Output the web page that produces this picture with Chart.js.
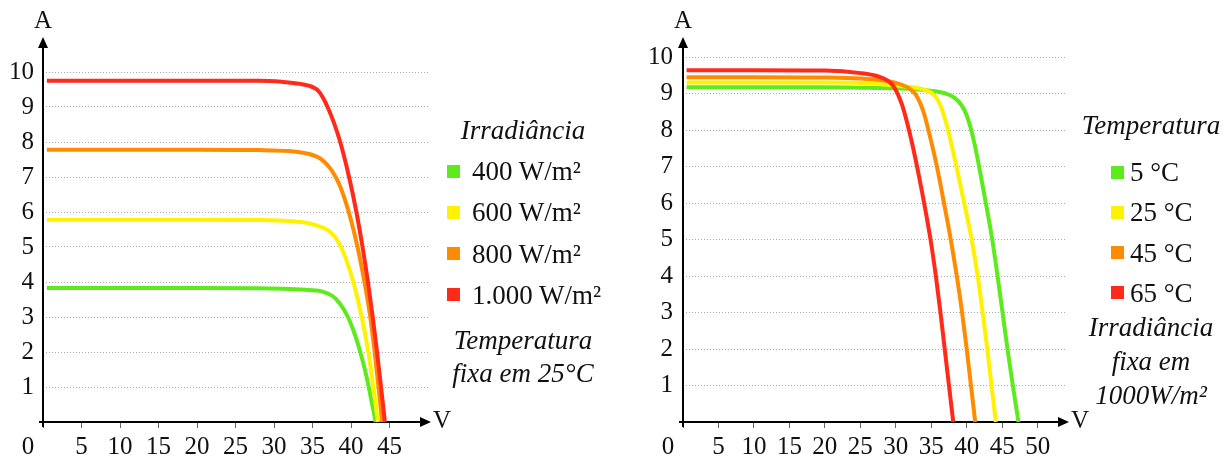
<!DOCTYPE html>
<html>
<head>
<meta charset="utf-8">
<script src="https://cdn.jsdelivr.net/npm/chart.js@4.4.1/dist/chart.umd.min.js"></script>
<style>
  html, body { margin: 0; padding: 0; background: #fff; }
  #wrap { position: relative; width: 1225px; height: 459px; overflow: hidden;
          font-family: "Liberation Serif", "Times New Roman", serif; color: #111; }
  canvas { position: absolute; top: 0; }
  .txt { position: absolute; line-height: 1; white-space: nowrap; font-size: 27px; }
  .mid { transform: translate(-50%, -50%); }
  .left { transform: translateY(-50%); }
  .it { font-style: italic; }
  .sw { position: absolute; width: 13px; height: 13px; }
</style>
</head>
<body>
<div id="wrap">
  <canvas id="irr" width="612" height="459" style="left:0"></canvas>
  <canvas id="temp" width="613" height="459" style="left:612px"></canvas>
</div>
<script>
// cores das curvas (mesma ordem das legendas)
const curveColors = ['#5eeb1e', '#fff200', '#ff8c00', '#ff2a1a'];

// ---- Curvas I-V com temperatura fixa (25 ºC) ----
const irrLabels = ['400 W/m²', '600 W/m²', '800 W/m²', '1.000 W/m²'];
const irr400 = [[0.5, 3.83], [10, 3.83], [20, 3.83], [28, 3.82], [32, 3.8], [34.5, 3.77], [36.4, 3.72],
                [37.6, 3.6], [38.5, 3.4], [39.6, 3.0], [40.5, 2.5], [41.2, 2.0], [41.8, 1.5],
                [42.3, 1.0], [42.75, 0.5], [43.2, 0]];
const irr600 = [[0.5, 5.78], [10, 5.78], [20, 5.78], [28, 5.77], [32, 5.74], [34.5, 5.68], [36.4, 5.55],
                [37.2, 5.45], [38.0, 5.26], [38.7, 5.0], [39.6, 4.5], [40.3, 4.0], [41.4, 3.0],
                [42.25, 2.0], [42.9, 1.0], [43.5, 0]];
const irr800 = [[0.5, 7.78], [10, 7.78], [20, 7.78], [28, 7.77], [32, 7.74], [34.5, 7.66], [36.0, 7.53],
                [37.0, 7.33], [37.8, 7.08], [38.5, 6.78], [39.2, 6.36], [39.9, 5.85], [40.85, 5.0],
                [41.75, 4.0], [42.5, 3.0], [43.07, 2.0], [43.57, 1.0], [44.05, 0]];
const irr1000 = [[0.5, 9.75], [10, 9.75], [20, 9.75], [28, 9.75], [31, 9.72], [33.4, 9.66], [35.1, 9.56],
                 [35.8, 9.45], [36.4, 9.25], [37.0, 8.98], [37.8, 8.54], [38.6, 8.0], [39.75, 7.0],
                 [40.7, 6.0], [41.5, 5.0], [42.2, 4.0], [42.82, 3.0], [43.38, 2.0], [43.9, 1.0],
                 [44.4, 0]];
const irrXTicks = [0, 5, 10, 15, 20, 25, 30, 35, 40, 45];

// ---- Curvas I-V com irradiância fixa (1000 W/m²) ----
const tempLabels = ['5 °C', '25 °C', '45 °C', '65 °C'];
const temp5 = [[0.5, 9.17], [10, 9.17], [20, 9.17], [25, 9.16], [30, 9.14], [34.3, 9.09], [37.1, 9.0],
               [38.3, 8.88], [39.2, 8.7], [39.9, 8.45], [40.5, 8.1], [41.1, 7.62], [41.7, 7.05],
               [42.7, 6.0], [43.6, 5.0], [44.35, 4.0], [45.05, 3.0], [45.75, 2.0], [46.5, 1.0],
               [47.3, 0]];
const temp25 = [[0.5, 9.3], [10, 9.3], [20, 9.3], [25, 9.29], [30, 9.22], [34.3, 9.09], [35.3, 8.98],
                [36.0, 8.8], [36.6, 8.52], [37.3, 8.05], [38.55, 7.0], [39.65, 6.0], [40.7, 5.0],
                [41.55, 4.0], [42.25, 3.0], [42.9, 2.0], [43.5, 1.0], [44.1, 0]];
const temp45 = [[0.5, 9.45], [10, 9.45], [20, 9.44], [25, 9.41], [29.5, 9.32], [31.9, 9.14], [32.7, 9.0],
                [33.4, 8.76], [34.0, 8.44], [34.6, 8.0], [35.8, 7.0], [36.8, 6.0], [37.75, 5.0],
                [38.6, 4.0], [39.35, 3.0], [40.0, 2.0], [40.6, 1.0], [41.2, 0]];
const temp65 = [[0.5, 9.64], [10, 9.64], [20, 9.63], [25, 9.56], [27.7, 9.46], [28.8, 9.36], [29.6, 9.22],
                [30.3, 8.98], [30.9, 8.68], [31.6, 8.2], [32.4, 7.55], [33.0, 7.0], [34.0, 6.0],
                [34.9, 5.0], [35.65, 4.0], [36.3, 3.0], [36.9, 2.0], [37.5, 1.0], [38.1, 0]];
const tempXTicks = [0, 5, 10, 15, 20, 25, 30, 35, 40, 45, 50];

const yTicks = [1, 2, 3, 4, 5, 6, 7, 8, 9, 10];

const tickFont = { family: '"Liberation Serif", "Times New Roman", serif', size: 25 };

// eixos com setas, rótulos A / V e o zero da origem
const axisArrows = {
  id: 'axisArrows',
  beforeDatasetsDraw(chart) {
    const { ctx, chartArea: a, scales: { x, y } } = chart;
    const x0 = Math.round(x.getPixelForValue(0));
    const y0 = Math.round(y.getPixelForValue(0));
    const tip = a.right + 3;
    ctx.save();
    ctx.strokeStyle = '#000';
    ctx.fillStyle = '#000';
    ctx.lineWidth = 2;
    ctx.beginPath();
    ctx.moveTo(x0, y0 + 5);
    ctx.lineTo(x0, a.top + 8);
    ctx.moveTo(x0 - 4, y0);
    ctx.lineTo(tip - 8, y0);
    ctx.stroke();
    ctx.beginPath();
    ctx.moveTo(x0, a.top);
    ctx.lineTo(x0 - 5, a.top + 11);
    ctx.lineTo(x0 + 5, a.top + 11);
    ctx.closePath();
    ctx.fill();
    ctx.beginPath();
    ctx.moveTo(tip, y0);
    ctx.lineTo(tip - 11, y0 - 5);
    ctx.lineTo(tip - 11, y0 + 5);
    ctx.closePath();
    ctx.fill();
    ctx.font = '25px "Liberation Serif"';
    ctx.fillStyle = '#111';
    ctx.textAlign = 'center';
    ctx.textBaseline = 'middle';
    ctx.fillText('A', x0, a.top - 16);
    ctx.fillText('V', tip + 11, y0 - 1);
    ctx.fillText('0', x0 - 15, y0 + 25);
    ctx.restore();
  }
};

const makeChart = (id, sets, cfg) => new Chart(document.getElementById(id), {
  type: 'line',
  data: {
    datasets: sets.map((pts, i) => ({
      data: pts.map(([v, amp]) => ({ x: v, y: amp })),
      borderColor: curveColors[i],
      borderWidth: 4,
      pointRadius: 0,
      fill: false,
      cubicInterpolationMode: 'monotone',
      order: sets.length - i,
      clip: false
    }))
  },
  options: {
    responsive: false,
    animation: false,
    devicePixelRatio: 1,
    layout: { autoPadding: false, padding: { top: 37, right: cfg.padRight, left: 0, bottom: 0 } },
    plugins: { legend: { display: false }, tooltip: { enabled: false } },
    scales: {
      x: {
        type: 'linear', min: 0, max: cfg.xMax,
        afterBuildTicks: s => { s.ticks = cfg.xTicks.map(v => ({ value: v })); },
        afterFit: s => { s.height = 37; },
        grid: { drawOnChartArea: false, drawTicks: true, tickLength: 6, color: '#666', lineWidth: 1 },
        border: { display: false },
        ticks: { font: tickFont, color: '#111', padding: 4, maxRotation: 0, autoSkip: false,
                 callback: v => (v === 0 ? '' : v) }
      },
      y: {
        type: 'linear', min: 0, max: cfg.yMax,
        afterBuildTicks: s => { s.ticks = yTicks.map(v => ({ value: v })); },
        afterFit: s => { s.width = cfg.axisLeft; },
        grid: { drawTicks: false, color: '#aaa', lineWidth: 1 },
        border: { display: false, dash: [1, 2] },
        ticks: { font: tickFont, color: '#111', padding: cfg.labelPad }
      }
    }
  },
  plugins: [axisArrows]
});

makeChart('irr', [irr400, irr600, irr800, irr1000],
  { xMax: 50, yMax: 11, xTicks: irrXTicks, axisLeft: 43, padRight: 184, labelPad: 9 });
makeChart('temp', [temp5, temp25, temp45, temp65],
  { xMax: 54, yMax: 10.55, xTicks: tempXTicks, axisLeft: 71, padRight: 159, labelPad: 10 });

// legendas em HTML ao lado de cada gráfico
const wrap = document.getElementById('wrap');
const addText = (txt, x, y, cls) => {
  const d = document.createElement('div');
  d.className = 'txt ' + cls;
  d.textContent = txt;
  d.style.left = x + 'px';
  d.style.top = y + 'px';
  wrap.appendChild(d);
};
const addLegend = (lg) => {
  addText(lg.title, lg.cx, lg.titleY, 'mid it');
  lg.labels.forEach((lab, i) => {
    const y = lg.itemY + i * lg.step;
    const sw = document.createElement('div');
    sw.className = 'sw';
    sw.style.background = curveColors[i];
    sw.style.left = lg.swX + 'px';
    sw.style.top = (y - 6.5) + 'px';
    wrap.appendChild(sw);
    addText(lab, lg.textX, y, 'left');
  });
  lg.notes.forEach((n, i) => addText(n, lg.cx, lg.noteY + i * lg.noteStep, 'mid it'));
};

addLegend({ title: 'Irradiância', labels: irrLabels, cx: 523, titleY: 130,
  swX: 447, textX: 472, itemY: 171, step: 41.3,
  notes: ['Temperatura', 'fixa em 25°C'], noteY: 340, noteStep: 33 });
addLegend({ title: 'Temperatura', labels: tempLabels, cx: 1151, titleY: 125,
  swX: 1111, textX: 1130, itemY: 172, step: 40.3,
  notes: ['Irradiância', 'fixa em', '1000W/m²'], noteY: 327, noteStep: 34 });
</script>
</body>
</html>
